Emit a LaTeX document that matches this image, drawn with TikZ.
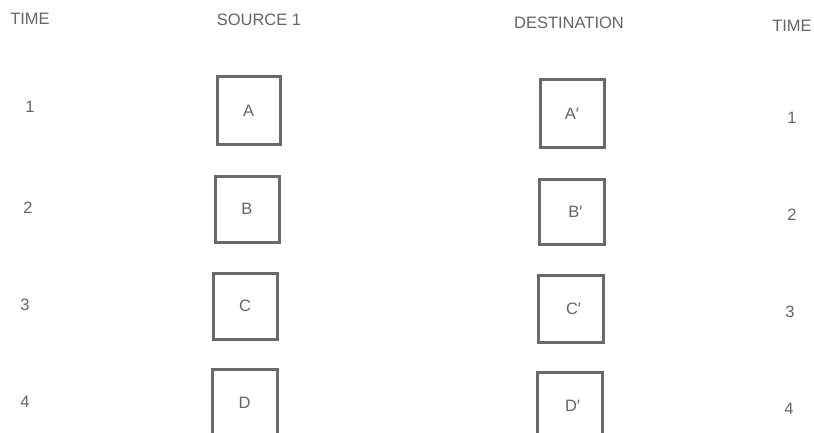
\documentclass[tikz,border=0pt]{standalone}
\usepackage{fontspec}
\setmainfont{Liberation Sans}
\definecolor{ink}{RGB}{100,100,100}
\definecolor{boxline}{RGB}{105,105,105}
\begin{document}
\begin{tikzpicture}[x=1pt,y=-1pt,
  lbl/.style={text=ink,font=\fontsize{16.5}{18}\selectfont,inner sep=0pt},
  blk/.style={draw=boxline,line width=3pt,text=ink,font=\fontsize{16.5}{18}\selectfont,
    minimum width=64pt,minimum height=66pt,inner sep=0pt}]
\useasboundingbox (0,0) rectangle (814,433);
\clip (0,0) rectangle (814,433);
% headers
\node[lbl] (h1) at (30,19) {TIME};
\node[lbl] (h2) at (259,20) {SOURCE 1};
\node[lbl] (h3) at (569,23) {DESTINATION};
\node[lbl] (h4) at (792,26) {TIME};
% left times
\node[lbl] (l1) at (30,107) {1};
\node[lbl] (l2) at (28,208) {2};
\node[lbl] (l3) at (25,305) {3};
\node[lbl] (l4) at (25,402) {4};
% right times
\node[lbl] (r1) at (792,118) {1};
\node[lbl] (r2) at (792,215) {2};
\node[lbl] (r3) at (790,312) {3};
\node[lbl] (r4) at (789,409) {4};
% source boxes
\node[blk,minimum width=63pt,minimum height=68pt] (A) at (248.5,111) {A};
\node[blk,minimum width=64pt,minimum height=66pt] (B) at (247,209) {B};
\node[blk,minimum width=64pt,minimum height=66pt] (C) at (245,306) {C};
\node[blk,minimum width=65pt,minimum height=68pt] (D) at (244.5,403) {D};
% destination boxes
\node[blk,minimum width=64pt,minimum height=68pt] (A2) at (572,114) {A′};
\node[blk,minimum width=65pt,minimum height=65pt] (B2) at (571.5,211.5) {\hspace*{8pt}B′};
\node[blk,minimum width=65pt,minimum height=67pt] (C2) at (570.5,308.5) {\hspace*{6pt}C′};
\node[blk,minimum width=65pt,minimum height=68pt] (D2) at (569.5,406) {\hspace*{6pt}D′};
\end{tikzpicture}
\end{document}
